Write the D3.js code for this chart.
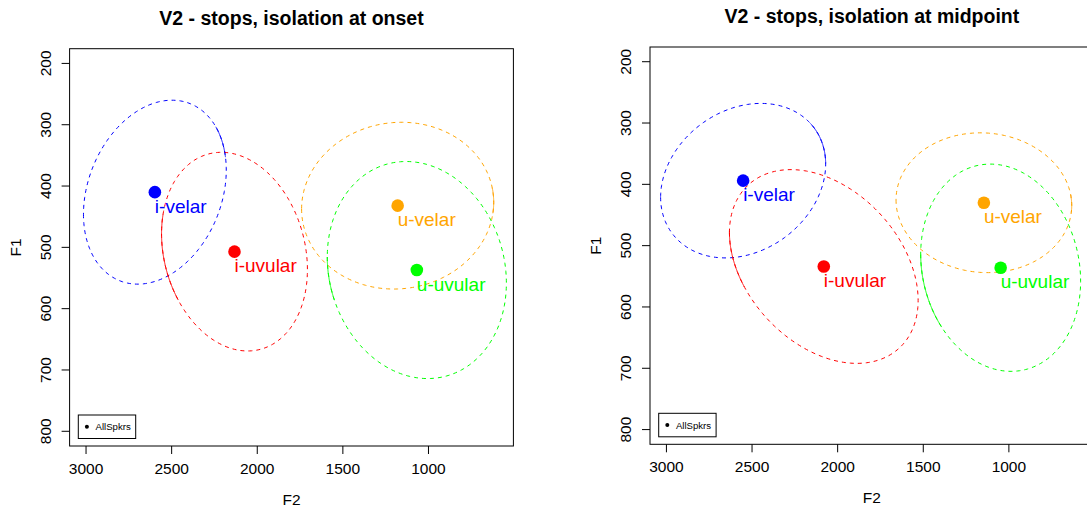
<!DOCTYPE html>
<html>
<head>
<meta charset="utf-8">
<script src="https://cdn.jsdelivr.net/npm/d3@7"></script>
<style>
  body { margin: 0; background: #fff; }
  svg { display: block; }
  text { font-family: "Liberation Sans", Arial, Helvetica, sans-serif; }
</style>
</head>
<body>
<svg width="1087" height="507"></svg>
<script>
// vowel groups and colours
var groups = ["i-velar", "i-uvular", "u-velar", "u-uvular"];
var colors = ["#0000FF", "#FF0000", "#FFA500", "#00FF00"];
var xTicks = [3000, 2500, 2000, 1500, 1000];
var yTicks = [200, 300, 400, 500, 600, 700, 800];
var titles = ["V2 - stops, isolation at onset", "V2 - stops, isolation at midpoint"];
var legendLabel = "AllSpkrs";

// onset: means, ellipse half-axes (Hz) and correlation
var onsetF2 = [2598, 2133, 1180, 1068];
var onsetF1 = [410, 507, 432, 537];
var onsetRadF2 = [417, 426, 561, 523];
var onsetRadF1 = [150, 162, 136, 177];
var onsetRho = [0.24, -0.18, 0.04, -0.12];
// part of each ellipse drawn twice by R (looks solid), as angle range
var onsetOverlap = [[3.29, 3.69], [-0.21, 0.69], [3.01, 3.32], [0.0, 0.4]];

// midpoint
var midF2 = [2552, 2081, 1146, 1048];
var midF1 = [394, 534, 430, 536];
var midRadF2 = [482, 551, 513, 467];
var midRadF1 = [126, 158, 114, 169];
var midRho = [0.215, -0.35, -0.04, -0.13];
var midOverlap = [[3.15, 3.76], [-0.03, 0.57], [3.04, 3.3], [0.0, 0.74]];

var svg = d3.select("svg");

var panels = [
  {title: titles[0], f2: onsetF2, f1: onsetF1, rx: onsetRadF2, ry: onsetRadF1, rho: onsetRho, over: onsetOverlap,
   left: 69.6, right: 513.4, top: 48.7, bottom: 446},
  {title: titles[1], f2: midF2, f1: midF1, rx: midRadF2, ry: midRadF1, rho: midRho, over: midOverlap,
   left: 650, right: 1093.8, top: 47, bottom: 444.3}
];

panels.forEach(function(p) {
  // R pads the range by 4%: xlim 3000..600, ylim 200..800
  var x = d3.scaleLinear().domain([3096, 504]).range([p.left, p.right]);
  var y = d3.scaleLinear().domain([176, 824]).range([p.top, p.bottom]);
  var g = svg.append("g");

  g.append("text")
      .attr("x", (p.left + p.right) / 2)
      .attr("y", p.top - 24)
      .attr("text-anchor", "middle")
      .attr("font-weight", "bold")
      .attr("font-size", 19.5)
      .text(p.title);

  // ellipses
  var line = d3.line().x(function(d) { return x(d[0]); }).y(function(d) { return y(d[1]); });
  function arc(i, t0, t1) {
    var pts = [], n = 240;
    var s = Math.sqrt(1 - p.rho[i] * p.rho[i]);
    for (var k = 0; k <= n; k++) {
      var t = t0 + (t1 - t0) * k / n;
      pts.push([p.f2[i] + p.rx[i] * Math.cos(t),
                p.f1[i] + p.ry[i] * (p.rho[i] * Math.cos(t) + s * Math.sin(t))]);
    }
    return line(pts);
  }

  g.selectAll(".ell")
    .data(groups)
    .enter().append("path")
      .attr("class", "ell")
      .attr("d", function(d, i) { return arc(i, 0, 2 * Math.PI); })
      .attr("fill", "none")
      .attr("stroke", function(d, i) { return colors[i]; })
      .attr("stroke-width", 1)
      .attr("stroke-dasharray", "4,4");

  g.selectAll(".solid")
    .data(groups)
    .enter().append("path")
      .attr("class", "solid")
      .attr("d", function(d, i) { return arc(i, p.over[i][0], p.over[i][1]); })
      .attr("fill", "none")
      .attr("stroke", function(d, i) { return colors[i]; })
      .attr("stroke-width", 1);

  // means
  g.selectAll("circle.pt")
    .data(groups)
    .enter().append("circle")
      .attr("class", "pt")
      .attr("cx", function(d, i) { return x(p.f2[i]); })
      .attr("cy", function(d, i) { return y(p.f1[i]); })
      .attr("r", 6.3)
      .attr("fill", function(d, i) { return colors[i]; });

  g.selectAll("text.lab")
    .data(groups)
    .enter().append("text")
      .attr("class", "lab")
      .attr("x", function(d, i) { return x(p.f2[i]); })
      .attr("y", function(d, i) { return y(p.f1[i]) + 20.5; })
      .attr("font-size", 19)
      .attr("fill", function(d, i) { return colors[i]; })
      .text(function(d) { return d; });

  // box
  g.append("rect")
      .attr("x", p.left).attr("y", p.top)
      .attr("width", p.right - p.left).attr("height", p.bottom - p.top)
      .attr("fill", "none").attr("stroke", "#000").attr("stroke-width", 1);

  // x axis
  g.selectAll(".xt")
    .data(xTicks)
    .enter().append("line")
      .attr("class", "xt")
      .attr("x1", x).attr("x2", x)
      .attr("y1", p.bottom).attr("y2", p.bottom + 8)
      .attr("stroke", "#000");
  g.selectAll(".xl")
    .data(xTicks)
    .enter().append("text")
      .attr("class", "xl")
      .attr("x", x)
      .attr("y", p.bottom + 28)
      .attr("text-anchor", "middle")
      .attr("font-size", 15.5)
      .text(function(d) { return d; });

  // y axis
  g.selectAll(".yt")
    .data(yTicks)
    .enter().append("line")
      .attr("class", "yt")
      .attr("x1", p.left - 8).attr("x2", p.left)
      .attr("y1", y).attr("y2", y)
      .attr("stroke", "#000");
  g.selectAll(".yl")
    .data(yTicks)
    .enter().append("text")
      .attr("class", "yl")
      .attr("transform", function(d) { return "translate(" + (p.left - 19) + "," + y(d) + ") rotate(-90)"; })
      .attr("text-anchor", "middle")
      .attr("font-size", 15.5)
      .text(function(d) { return d; });

  g.append("text")
      .attr("x", (p.left + p.right) / 2)
      .attr("y", p.bottom + 59)
      .attr("text-anchor", "middle")
      .attr("font-size", 15.5)
      .text("F2");
  g.append("text")
      .attr("transform", "translate(" + (p.left - 49) + "," + ((p.top + p.bottom) / 2) + ") rotate(-90)")
      .attr("text-anchor", "middle")
      .attr("font-size", 15.5)
      .text("F1");

  // legend, bottom left
  var lx = p.left + 8.7, ly = p.bottom - 7.5 - 23.5;
  g.append("rect")
      .attr("x", lx).attr("y", ly)
      .attr("width", 57.4).attr("height", 23.5)
      .attr("fill", "#fff").attr("stroke", "#000").attr("stroke-width", 1);
  g.append("circle")
      .attr("cx", lx + 8.6).attr("cy", ly + 11.8)
      .attr("r", 2).attr("fill", "#000");
  g.append("text")
      .attr("x", lx + 17.2).attr("y", ly + 15.2)
      .attr("font-size", 9.6)
      .text(legendLabel);
});
</script>
</body>
</html>
